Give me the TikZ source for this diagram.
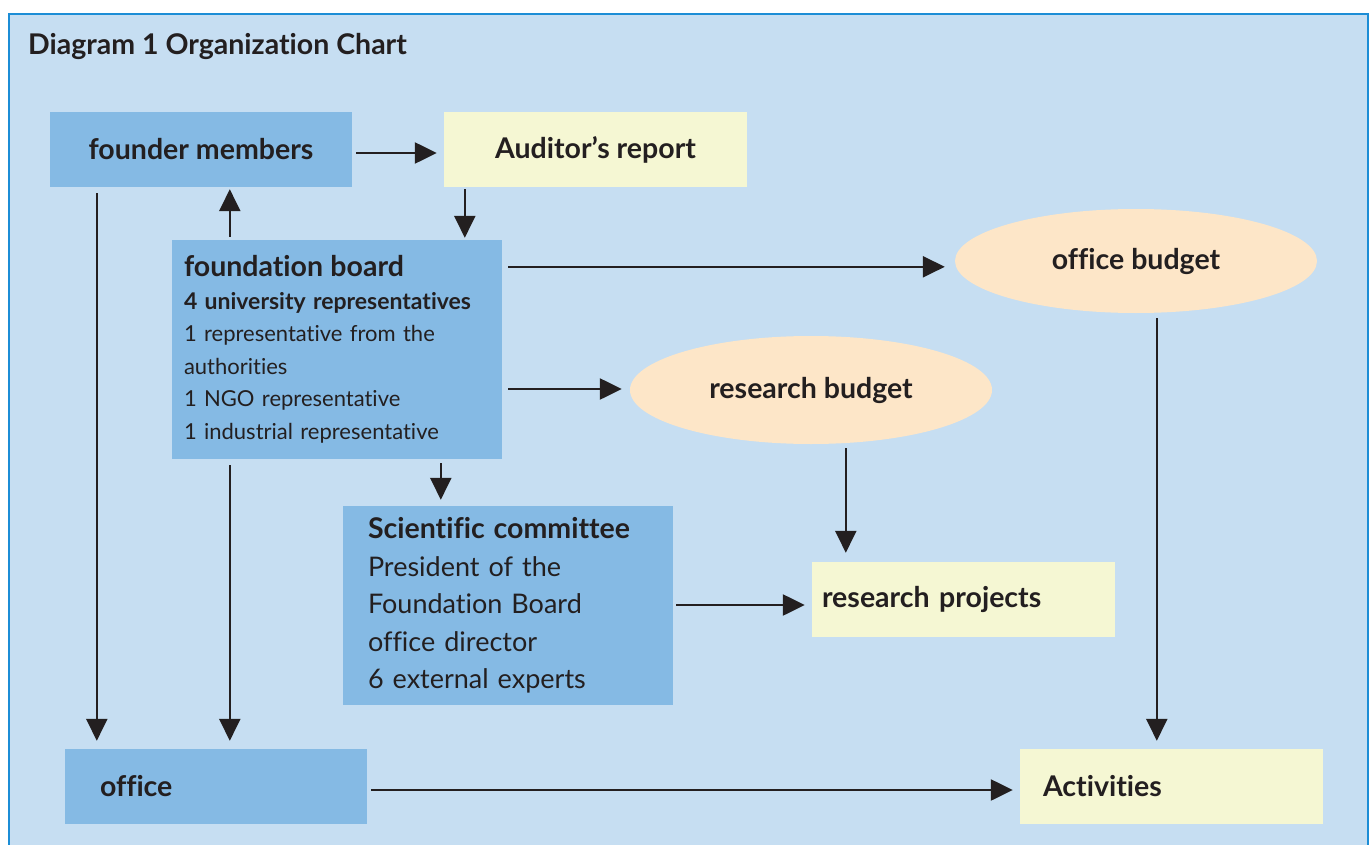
\documentclass[tikz,border=0pt]{standalone}
\usepackage{fontspec}
\setmainfont{Lato}[Ligatures=NoCommon]
\usepackage{xcolor}
\usetikzlibrary{positioning}
\usetikzlibrary{shapes.geometric}
\usetikzlibrary{arrows.meta}
\definecolor{framecol}{HTML}{1C8DD6}
\definecolor{bgcol}{HTML}{C6DEF2}
\definecolor{darkbox}{HTML}{85BAE4}
\definecolor{paleyel}{HTML}{F5F7D3}
\definecolor{budget}{HTML}{FDE6C8}
\definecolor{ink}{HTML}{231F20}

\begin{document}
\begin{tikzpicture}[x=1pt, y=-1pt,
  every node/.style = {text=ink, inner sep=0pt, font=\fontsize{28.5}{34}\selectfont\bfseries},
  unit/.style = {rectangle, fill=darkbox, minimum width=302pt, minimum height=75pt},
  note/.style = {rectangle, fill=paleyel, minimum width=303pt, minimum height=75pt},
  budg/.style = {ellipse, fill=budget, minimum width=362pt, minimum height=104pt},
  arr/.style = {draw=ink, line width=2.4pt, -{Triangle[length=22pt, width=21pt]},
                shorten <=4pt, shorten >=7pt}
]
\useasboundingbox (0,0) rectangle (1372,845);
\fill[white] (0,0) rectangle (1372,845);
\filldraw[fill=bgcol, draw=framecol, line width=2.5pt] (9,14) rectangle (1368,860);

\node[anchor=west] (title) at (28,46) {Diagram 1 Organization Chart};

\node[unit] (fm) at (201,149.5) {founder members};
\node[note] (ar) at (595.5,149.5) {Auditor’s report};
\node[unit, minimum width=330pt, minimum height=219pt, inner xsep=12pt,
      text width=306pt, align=left, font=\fontsize{22}{32.5}\selectfont] (fb) at (337,349.5)
  {{\fontsize{28.5}{32.5}\selectfont\bfseries foundation board}\\
   {\fontsize{23}{32.5}\selectfont\bfseries 4 university representatives}\\
   1 representative from the\\
   authorities\\
   1 NGO representative\\
   1 industrial representative};
\node[budg] (ob) at (1136,261) {office budget};
\node[budg, minimum height=108pt] (rb) at (811,390) {research budget};
\node[unit, minimum width=330pt, minimum height=199pt, inner xsep=25pt,
      text width=280pt, align=left, font=\fontsize{27}{37.5}\selectfont] (sc) at (508,605.5)
  {{\fontsize{28.5}{37.5}\selectfont\bfseries Scientific committee}\\
   President of the\\
   Foundation Board\\
   office director\\
   6 external experts};
\node[note, inner xsep=10pt, text width=283pt, align=left] (rp) at (963.5,599.5) {research projects};
\node[unit, inner xsep=35pt, text width=232pt, align=left] (of) at (216,786.5) {office};
\node[note, inner xsep=23pt, text width=257pt, align=left] (ac) at (1171.5,786.5) {Activities};

\draw[arr] ([yshift=-3.5pt]fm.east) -- ([yshift=-3.5pt]ar.west);
\draw[arr, shorten <=2pt, shorten >=2pt] ([xshift=21pt]ar.south west) -- ([xshift=21pt]ar.south west |- fb.north);
\draw[arr, shorten <=3pt, shorten >=2pt] ([xshift=58pt]fb.north west) -- ([xshift=58pt]fb.north west |- fm.south);
\draw[arr, shorten <=6pt, shorten >=8pt] ([xshift=47pt]fm.south west) -- ([xshift=47pt]fm.south west |- of.north);
\draw[arr, shorten <=6pt, shorten >=8pt] ([xshift=58pt]fb.south west) -- ([xshift=58pt]fb.south west |- of.north);
\draw[arr, shorten <=6pt, shorten >=10pt] ([yshift=-27pt]fb.north east) -- ([yshift=-27pt]fb.north east -| ob.west);
\draw[arr, shorten <=6pt, shorten >=8pt] ([yshift=-39.5pt]fb.east) -- ([yshift=-39.5pt]fb.east -| rb.west);
\draw[arr, shorten <=4pt, shorten >=6pt] ([xshift=269pt]fb.south west) -- ([xshift=269pt]fb.south west |- sc.north);
\draw[arr, shorten <=4pt, shorten >=9pt] ([xshift=34pt]rp.north west |- rb.south) -- ([xshift=34pt]rp.north west);
\draw[arr, shorten <=3pt, shorten >=7pt] ([yshift=-5.5pt]rp.west -| sc.east) -- ([yshift=-5.5pt]rp.west);
\draw[arr, shorten <=5pt, shorten >=8pt] ([xshift=137pt]ac.north west |- ob.south) -- ([xshift=137pt]ac.north west);
\draw[arr] ([yshift=-3.5pt]of.east) -- ([yshift=-3.5pt]ac.west);
\end{tikzpicture}
\end{document}
